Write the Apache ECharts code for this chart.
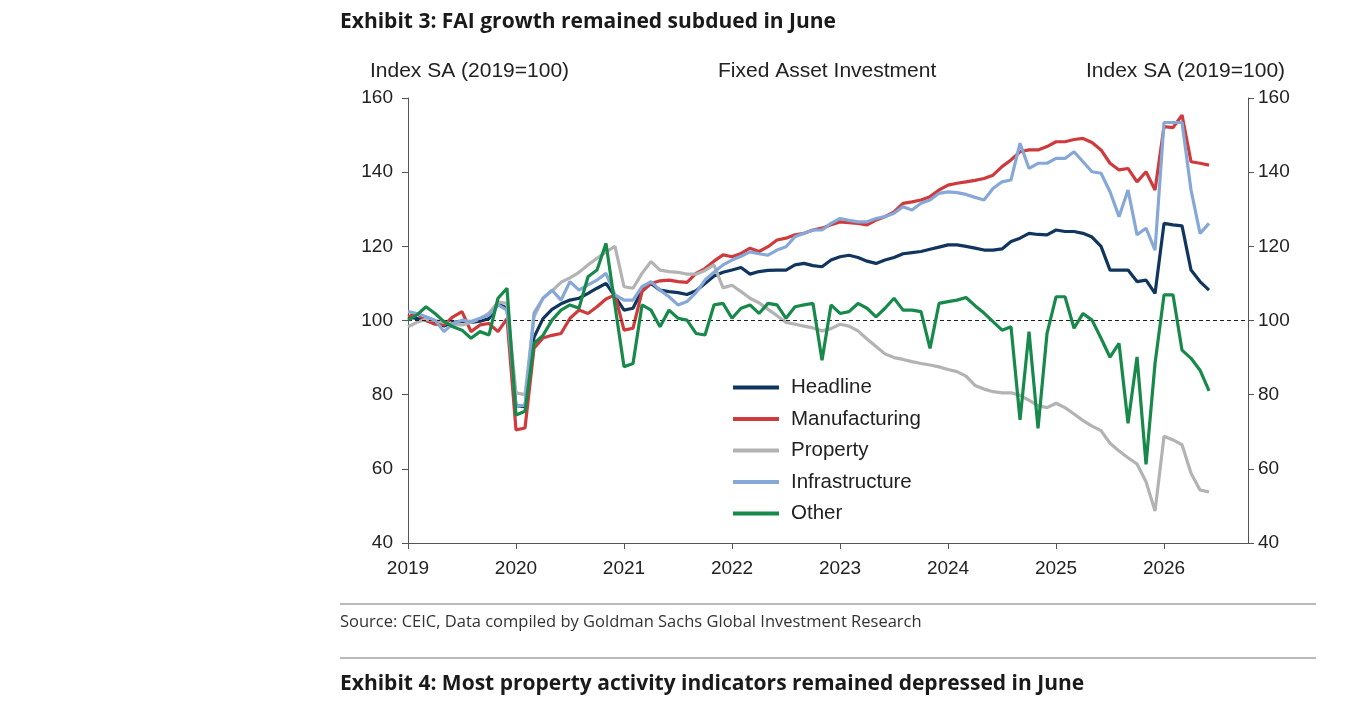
<!DOCTYPE html>
<html>
<head>
<meta charset="utf-8">
<title>Exhibit 3: FAI growth remained subdued in June</title>
<script src="https://cdn.jsdelivr.net/npm/echarts@6/dist/echarts.min.js"></script>
<style>
  html, body { margin: 0; padding: 0; background: #fff; }
  #chart { width: 1365px; height: 715px; }
</style>
</head>
<body>
<div id="chart"></div>
<script>
// monthly index values, Jan 2019 .. Jun 2026
const startYear = 2019
const seriesNames = ["Headline", "Manufacturing", "Property", "Infrastructure", "Other"]
const seriesColors = ["#10365f", "#cf3a3c", "#b3b3b3", "#86a8d8", "#17894b"]

const headline = [
  101, 100.5, 100, 99.5, 98.5, 99.5, 99.8, 99.5, 99.8, 100.5, 104.5, 103.3,
  77, 76.8, 95.5, 100.5, 103, 104.5, 105.5, 106, 107.3, 108.7, 110, 106.5,
  102.8, 103.3, 108.2, 110, 108.2, 107.8, 107.5, 107, 108, 110, 112, 113,
  113.6, 114.3, 112.5, 113.2, 113.5, 113.6, 113.6, 115, 115.4, 114.8, 114.5, 116.3,
  117.2, 117.6, 117, 116, 115.4, 116.3, 117, 118, 118.3, 118.6, 119.2, 119.8,
  120.4, 120.4, 120, 119.5, 119, 119, 119.3, 121.3, 122.2, 123.5, 123.2, 123.1,
  124.4, 124, 124, 123.5, 122.5, 120, 113.6, 113.6, 113.6, 110.5, 110.9, 107.3,
  126.2, 125.8, 125.5, 113.6, 110.5, 108.2
]
const manufacturing = [
  101, 101.9, 100, 99, 98.8, 101, 102.4, 97, 98.8, 99.2, 97, 100.5,
  70.5, 71, 92.5, 95.3, 96, 96.5, 100.6, 102.8, 101.9, 103.7, 105.8, 106.9,
  97.4, 97.9, 107.8, 110, 110.7, 110.9, 110.5, 110.3, 112.7, 114, 116, 117.7,
  117.2, 118.1, 119.5, 118.6, 119.9, 121.7, 122.2, 123.1, 123.5, 124.4, 124.9, 125.8,
  126.6, 126.4, 126.2, 125.8, 127.1, 128, 129.3, 131.6, 132, 132.5, 133.4, 135.2,
  136.5, 137, 137.4, 137.8, 138.3, 139.2, 141.5, 143.3, 145.5, 146, 146, 146.9,
  148.2, 148.2, 148.8, 149.1, 148, 146, 142.4, 140.6, 141, 137.4, 140.1, 135.2,
  152.3, 152, 155.4, 142.8, 142.4, 141.9
]
const property = [
  98.3, 99.5, 100.3, 100, 99.5, 99, 98.8, 99.5, 100.5, 102, 105, 104.6,
  80.5, 80, 101, 106, 108, 110.3, 111.5, 113, 115, 116.8, 118.5, 120,
  109.1, 108.7, 112.7, 115.9, 113.6, 113.2, 113, 112.5, 112.5, 113.5, 115, 108.8,
  109.5, 107.8, 106, 104.8, 103, 101.3, 99.5, 99, 98.5, 98, 97.2, 97.8,
  99, 98.5, 97.2, 95, 93, 91, 90, 89.5, 88.9, 88.4, 88, 87.5,
  86.8, 86.2, 85, 82.5, 81.5, 80.8, 80.5, 80.5, 79.8, 78.5, 77, 76.5,
  77.7, 76.5, 74.8, 73, 71.5, 70.3, 66.9, 64.8, 63, 61.3, 56.5, 48.6,
  68.8, 67.8, 66.5, 58.8, 54.3, 53.8
]
const infrastructure = [
  102.4, 101.9, 101, 100.1, 97, 99.2, 100.1, 99.7, 100.6, 101.5, 104.2, 102.8,
  76.8, 77.2, 102, 106, 108.2, 105.5, 110.5, 108.2, 109.6, 110.9, 112.7, 106.9,
  105.5, 105.5, 109.1, 110.5, 108.2, 106.4, 104.2, 105.1, 107.5, 110.9, 113, 115,
  116.3, 117.3, 118.5, 118, 117.6, 119, 119.9, 122.6, 123.5, 124.4, 124.4, 126.2,
  127.5, 127, 126.6, 126.6, 127.5, 128, 128.9, 130.7, 129.8, 131.6, 132.5, 134.3,
  134.7, 134.5, 134, 133.2, 132.5, 135.6, 137.4, 137.9, 147.8, 141, 142.4, 142.4,
  143.7, 143.7, 145.5, 142.8, 140.1, 139.7, 134.7, 128, 135.2, 123.1, 124.9, 119,
  153.4, 153.4, 153.4, 135.2, 123.5, 126.2
]
const other = [
  100.1, 101.5, 103.7, 101.9, 99.7, 98.3, 97.4, 95.2, 97, 96.1, 106, 108.7,
  74.5, 75.5, 93.8, 96, 100.1, 102.8, 104.2, 103.3, 111.8, 113.6, 120.8, 104,
  87.5, 88.4, 104.2, 102.8, 98.3, 102.8, 100.6, 100.1, 96.5, 96.1, 104.2, 104.6,
  100.6, 103.3, 104.2, 101.9, 104.6, 104.2, 100.6, 103.7, 104.2, 104.6, 89.3, 104.2,
  101.9, 102.4, 104.6, 103.3, 101, 103.3, 106, 102.8, 102.8, 102.4, 92.5, 104.6,
  105.1, 105.5, 106.2, 104, 102, 99.7, 97.4, 98.3, 73.2, 97, 70.9, 96.5,
  106.4, 106.4, 97.9, 101.9, 100.1, 95.2, 90.1, 93.8, 72.3, 90.2, 61.2, 88.4,
  106.9, 106.9, 92, 89.8, 86.6, 81
]
const allSeries = [headline, manufacturing, property, infrastructure, other]

const yTicks = [40, 60, 80, 100, 120, 140, 160]
const baseline = 100
const xMaxMonth = 93.33   // axis runs a few months past the last point

const axisFont = "'Liberation Sans', Arial, sans-serif"
const axisColor = "#555"
const pageFont = "'Open Sans', Lato, sans-serif"

function yAxisFor(side, labelMargin) {
  return {
    type: "value",
    position: side,
    min: yTicks[0],
    max: yTicks[yTicks.length - 1],
    interval: 20,
    splitLine: { show: false },
    axisLine: { show: true, lineStyle: { color: axisColor, width: 1 } },
    axisTick: { show: true, length: 6, lineStyle: { color: axisColor } },
    axisLabel: { margin: labelMargin, fontFamily: axisFont, fontSize: 19, color: "#222" }
  }
}

let option = {
  animation: false,
  backgroundColor: "#fff",
  grid: {
    left: 408,
    right: 117,
    top: 98,
    bottom: 172
  },
  legend: {
    data: seriesNames,
    orient: "vertical",
    left: 728,
    top: 372,
    icon: "rect",
    itemWidth: 46,
    itemHeight: 4,
    itemGap: 10.5,
    textStyle: {
      fontFamily: axisFont,
      fontSize: 20.5,
      color: "#222",
      padding: [0, 0, 0, 7]
    }
  },
  xAxis: {
    type: "value",
    min: 0,
    max: xMaxMonth,
    interval: 12,
    splitLine: { show: false },
    axisLine: { lineStyle: { color: axisColor, width: 1 } },
    axisTick: { show: true, length: 6, lineStyle: { color: axisColor } },
    axisLabel: {
      showMaxLabel: false,
      margin: 16,
      fontFamily: axisFont,
      fontSize: 19,
      color: "#222",
      formatter: v => (v % 12 === 0 ? String(startYear + v / 12) : "")
    }
  },
  yAxis: [yAxisFor("left", 15), yAxisFor("right", 10)],
  series: seriesNames.map((name, k) => ({
    name: name,
    type: "line",
    color: seriesColors[k],
    symbol: "none",
    lineStyle: { width: 3.2, color: seriesColors[k] },
    z: 2 + k,
    data: allSeries[k].map((v, i) => [i, v]),
    markLine: k === 0 ? {
      silent: true,
      symbol: "none",
      label: { show: false },
      lineStyle: { type: [4, 3], color: "#222", width: 1 },
      data: [{ yAxis: baseline }]
    } : undefined
  })),
  graphic: [
    {
      type: "text", left: 340, top: 12,
      style: { text: "Exhibit 3: FAI growth remained subdued in June", font: "bold 21px " + pageFont, fill: "#1a1a1a" }
    },
    {
      type: "text", left: 370, top: 61,
      style: { text: "Index SA (2019=100)", font: "21px " + axisFont, fill: "#222" }
    },
    {
      type: "text", left: 718, top: 61,
      style: { text: "Fixed Asset Investment", font: "21px " + axisFont, fill: "#222" }
    },
    {
      type: "text", left: 1086, top: 61,
      style: { text: "Index SA (2019=100)", font: "21px " + axisFont, fill: "#222" }
    },
    {
      type: "line", shape: { x1: 340, y1: 604, x2: 1316, y2: 604 },
      style: { stroke: "#777", lineWidth: 1 }
    },
    {
      type: "text", left: 340, top: 614,
      style: { text: "Source: CEIC, Data compiled by Goldman Sachs Global Investment Research", font: "16.5px " + pageFont, fill: "#333" }
    },
    {
      type: "line", shape: { x1: 340, y1: 658, x2: 1316, y2: 658 },
      style: { stroke: "#777", lineWidth: 1 }
    },
    {
      type: "text", left: 340, top: 674,
      style: { text: "Exhibit 4: Most property activity indicators remained depressed in June", font: "bold 21px " + pageFont, fill: "#1a1a1a" }
    }
  ]
}

let chartEl = echarts.init(document.getElementById("chart"))
chartEl.setOption(option)
window.addEventListener("resize", () => chartEl.resize())
</script>
</body>
</html>
